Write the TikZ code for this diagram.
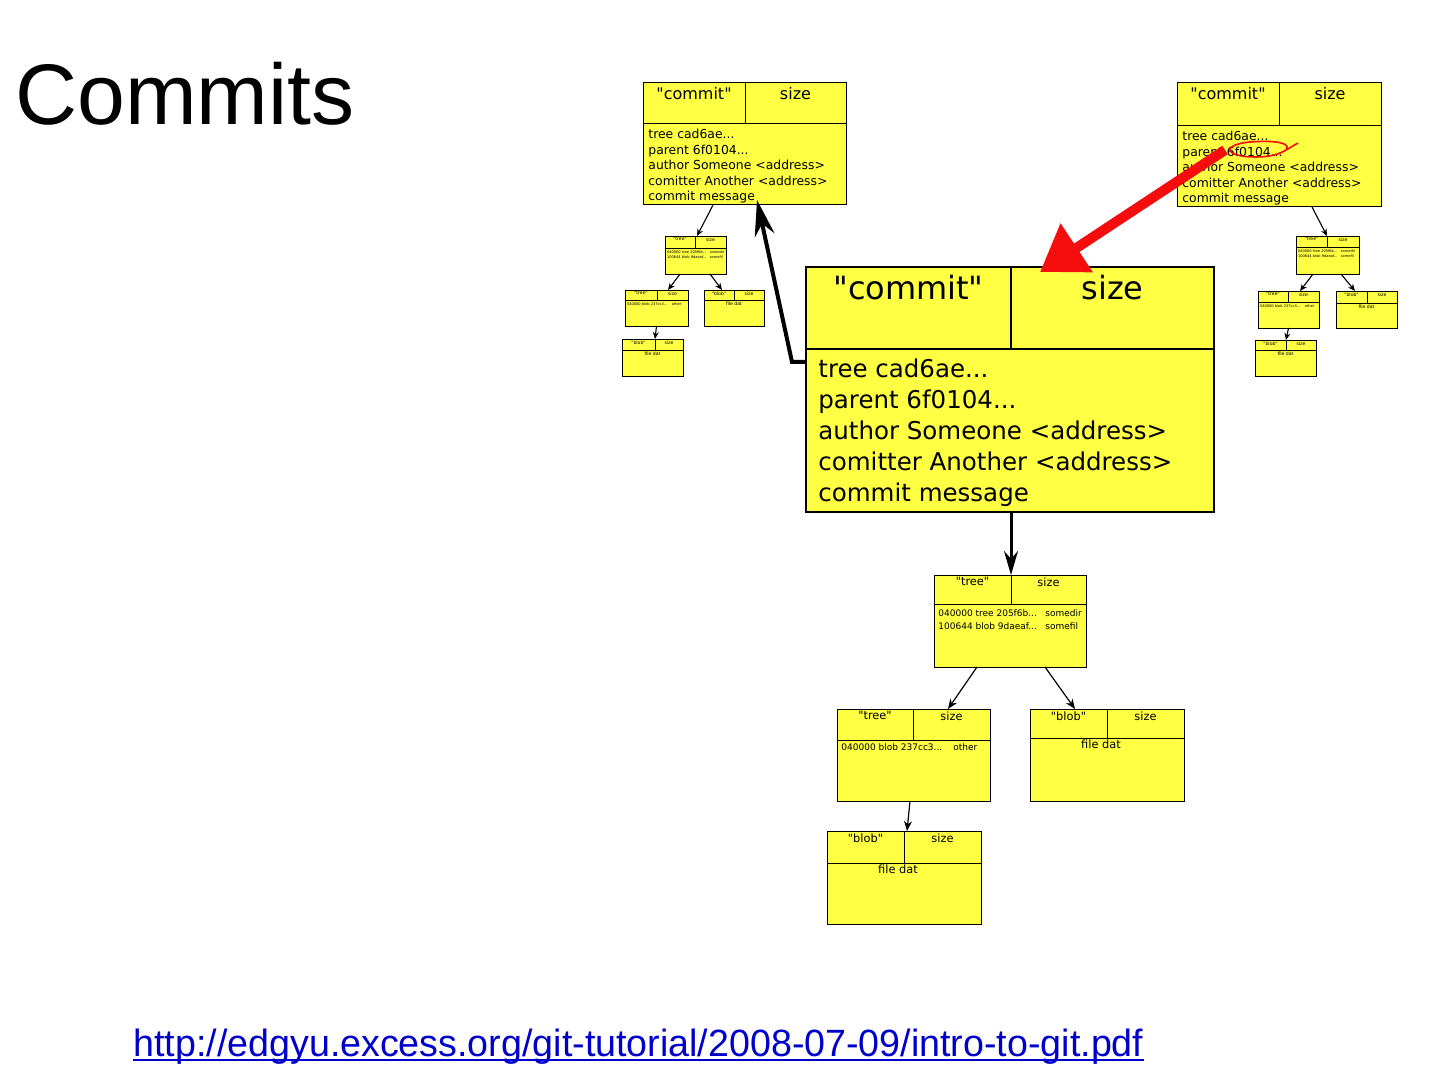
\documentclass[tikz,border=0pt]{standalone}
\usepackage{fontspec}
\usepackage{graphicx}
\setmainfont{Liberation Sans}
\newfontfamily\objfont{DejaVu Sans}[Ligatures=TeXOff]
\usetikzlibrary{arrows.meta, positioning}
\definecolor{GitYellow}{RGB}{255, 255, 68}
\definecolor{MarkRed}{RGB}{245, 12, 12}
\definecolor{LinkBlue}{RGB}{0, 0, 204}

\begin{document}
\begin{tikzpicture}[
    % one unit = one pixel of the slide
    x=0.5pt, y=-0.5pt,
    % --- OBJECT CELLS ---
    cell/.style={
        draw=black,
        fill=GitYellow,
        inner sep=0pt,
        outer sep=0pt,
        anchor=north west,
        line width=0.5pt
    },
    bigcell/.style={cell, line width=0.8pt},
    tinycell/.style={cell, line width=0.45pt},
    % --- TEXT INSIDE THE CELLS (label styles) ---
    bighead/.style={anchor=north, inner sep=4pt, font=\objfont\fontsize{16}{19}\selectfont},
    bigbody/.style={anchor=north west, inner xsep=6pt, inner ysep=4.5pt, align=left,
        font=\objfont\fontsize{12.25}{15.5}\selectfont},
    comhead/.style={anchor=north, inner sep=2pt, font=\objfont\fontsize{8}{9.5}\selectfont},
    combody/.style={anchor=north west, inner xsep=2.5pt, inner ysep=2.5pt, align=left,
        font=\objfont\fontsize{6.2}{7.75}\selectfont},
    treehead/.style={anchor=north, inner sep=1pt, font=\objfont\fontsize{5.7}{6.5}\selectfont},
    treebody/.style={anchor=north west, inner xsep=2pt, inner ysep=2.5pt, align=left,
        font=\objfont\fontsize{4.5}{6.5}\selectfont},
    tinyhead/.style={anchor=north, inner sep=0.6pt, font=\objfont\fontsize{2.3}{2.6}\selectfont},
    tinybody/.style={anchor=north west, inner xsep=0.8pt, inner ysep=1pt, align=left,
        font=\objfont\fontsize{1.8}{2.6}\selectfont},
    % --- ARROWS ---
    arrow/.style={line width=0.6pt, -{Stealth[length=5pt, width=4pt]}},
    tinyarrow/.style={line width=0.55pt, -{Stealth[length=3.5pt, width=3pt]}},
    downarrow/.style={line width=1.5pt, -{Stealth[length=12pt, width=7pt]}},
    parentarrow/.style={line width=2pt, -{Stealth[length=18pt, width=10pt]}},
    redarrow/.style={MarkRed, line width=5pt, -{Triangle[length=22pt, width=28pt]}},
    redpen/.style={MarkRed, line width=0.8pt}
]
\useasboundingbox [fill=white] (0,0) rectangle (1440,1080);

% --- TITLE AND SOURCE ---
\node (title) [anchor=base west, inner sep=0pt, font=\fontsize{43}{50}\selectfont] at (15,125) {Commits};
\node (link) [anchor=base west, inner sep=0pt, text=LinkBlue, font=\fontsize{19}{23}\selectfont] at (133,1056)
    {\scalebox{0.99}[1]{http://edgyu.excess.org/git-tutorial/2008-07-09/intro-to-git.pdf}};
\draw [LinkBlue, line width=1pt] ([yshift=-2pt]link.base west) -- ([yshift=-2pt]link.base east);

% --- 1. THE LARGE COMMIT ---
\node (mcType) [bigcell, minimum width=102.5pt, minimum height=41pt, label={[bighead]north:{"commit"}}] at (806,267) {};
\node (mcSize) [bigcell, minimum width=101.5pt, minimum height=41pt, label={[bighead]north:size}] at (mcType.north east) {};
\node (mcBody) [bigcell, minimum width=204pt, minimum height=81.5pt,
    label={[bigbody]north west:{tree cad6ae...\\parent 6f0104...\\author Someone <address>\\comitter Another <address>\\commit message}}] at (mcType.south west) {};

% Tree of the large commit
\node (mtType) [cell, minimum width=38.5pt, minimum height=14.5pt, label={[treehead]north:{"tree"}}] at (934,575) {};
\node (mtSize) [cell, minimum width=37.5pt, minimum height=14.5pt, label={[treehead]north:size}] at (mtType.north east) {};
\node (mtBody) [cell, minimum width=76pt, minimum height=31.5pt,
    label={[treebody]north west:{\makebox[53.5pt][l]{040000 tree 205f6b...}somedir\\\makebox[53.5pt][l]{100644 blob 9daeaf...}somefil}}] at (mtType.south west) {};

\node (stType) [cell, minimum width=38pt, minimum height=15.5pt, label={[treehead]north:{"tree"}}] at (837,709) {};
\node (stSize) [cell, minimum width=38.5pt, minimum height=15.5pt, label={[treehead]north:size}] at (stType.north east) {};
\node (stBody) [cell, minimum width=76.5pt, minimum height=30.5pt,
    label={[treebody, inner ysep=1.5pt]north west:{\makebox[56pt][l]{040000 blob 237cc3...}other}}] at (stType.south west) {};

\node (fbType) [cell, minimum width=38.5pt, minimum height=14.5pt, label={[treehead]north:{"blob"}}] at (1030,709) {};
\node (fbSize) [cell, minimum width=38.5pt, minimum height=14.5pt, label={[treehead]north:size}] at (fbType.north east) {};
\node (fbBody) [cell, minimum width=77pt, minimum height=31.5pt,
    label={[treehead, xshift=-3pt, inner sep=0.5pt]north:file dat}] at (fbType.south west) {};

\node (sbType) [cell, minimum width=38.5pt, minimum height=16pt, label={[treehead]north:{"blob"}}] at (827,831) {};
\node (sbSize) [cell, minimum width=38.5pt, minimum height=16pt, label={[treehead]north:size}] at (sbType.north east) {};
\node (sbBody) [cell, minimum width=77pt, minimum height=30.5pt,
    label={[treehead, xshift=-3pt, inner sep=0.5pt]north:file dat}] at (sbType.south west) {};

% --- 2. THE PARENT COMMIT (top left) ---
\node (lcType) [cell, minimum width=51pt, minimum height=20.5pt, label={[comhead]north:{"commit"}}] at (643,83) {};
\node (lcSize) [cell, minimum width=50.5pt, minimum height=20.5pt, label={[comhead]north:size}] at (lcType.north east) {};
\node (lcBody) [cell, minimum width=101.5pt, minimum height=40.5pt,
    label={[combody]north west:{tree cad6ae...\\parent 6f0104...\\author Someone <address>\\comitter Another <address>\\commit message}}] at (lcType.south west) {};

\node (lTreeAType) [tinycell, minimum width=15pt, minimum height=6pt, label={[tinyhead]north:{"tree"}}] at (665,236) {};
\node (lTreeASize) [tinycell, minimum width=15.5pt, minimum height=6pt, label={[tinyhead]north:size}] at (lTreeAType.north east) {};
\node (lTreeABody) [tinycell, minimum width=30.5pt, minimum height=13pt,
    label={[tinybody]north west:{\makebox[21.4pt][l]{040000 tree 205f6b...}somedir\\\makebox[21.4pt][l]{100644 blob 9daeaf...}somefil}}] at (lTreeAType.south west) {};
\node (lTreeBType) [tinycell, minimum width=16pt, minimum height=5pt, label={[tinyhead]north:{"tree"}}] at (625,290) {};
\node (lTreeBSize) [tinycell, minimum width=15.5pt, minimum height=5pt, label={[tinyhead]north:size}] at (lTreeBType.north east) {};
\node (lTreeBBody) [tinycell, minimum width=31.5pt, minimum height=13pt,
    label={[tinybody]north west:{\makebox[22.4pt][l]{040000 blob 237cc3...}other}}] at (lTreeBType.south west) {};
\node (lBlobAType) [tinycell, minimum width=15pt, minimum height=5pt, label={[tinyhead]north:{"blob"}}] at (704,290) {};
\node (lBlobASize) [tinycell, minimum width=15pt, minimum height=5pt, label={[tinyhead]north:size}] at (lBlobAType.north east) {};
\node (lBlobABody) [tinycell, minimum width=30pt, minimum height=13pt, label={[tinyhead]north:file dat}] at (lBlobAType.south west) {};
\node (lBlobBType) [tinycell, minimum width=16.5pt, minimum height=5.5pt, label={[tinyhead]north:{"blob"}}] at (622,339) {};
\node (lBlobBSize) [tinycell, minimum width=14pt, minimum height=5.5pt, label={[tinyhead]north:size}] at (lBlobBType.north east) {};
\node (lBlobBBody) [tinycell, minimum width=30.5pt, minimum height=13pt, label={[tinyhead]north:file dat}] at (lBlobBType.south west) {};

% --- 3. THE CHILD COMMIT (top right) ---
\node (rcType) [cell, minimum width=51pt, minimum height=21.5pt, label={[comhead]north:{"commit"}}] at (1177,83) {};
\node (rcSize) [cell, minimum width=51pt, minimum height=21.5pt, label={[comhead]north:size}] at (rcType.north east) {};
\node (rcBody) [cell, minimum width=102pt, minimum height=40.5pt,
    label={[combody]north west:{tree cad6ae...\\parent 6f0104...\\author Someone <address>\\comitter Another <address>\\commit message}}] at (rcType.south west) {};

\node (rTreeAType) [tinycell, minimum width=15.5pt, minimum height=5.5pt, label={[tinyhead]north:{"tree"}}] at (1296,236) {};
\node (rTreeASize) [tinycell, minimum width=16pt, minimum height=5.5pt, label={[tinyhead]north:size}] at (rTreeAType.north east) {};
\node (rTreeABody) [tinycell, minimum width=31.5pt, minimum height=13.5pt,
    label={[tinybody]north west:{\makebox[21.4pt][l]{040000 tree 205f6b...}somedir\\\makebox[21.4pt][l]{100644 blob 9daeaf...}somefil}}] at (rTreeAType.south west) {};
\node (rTreeBType) [tinycell, minimum width=15pt, minimum height=5.5pt, label={[tinyhead]north:{"tree"}}] at (1258,291) {};
\node (rTreeBSize) [tinycell, minimum width=15.5pt, minimum height=5.5pt, label={[tinyhead]north:size}] at (rTreeBType.north east) {};
\node (rTreeBBody) [tinycell, minimum width=30.5pt, minimum height=13pt,
    label={[tinybody]north west:{\makebox[22.4pt][l]{040000 blob 237cc3...}other}}] at (rTreeBType.south west) {};
\node (rBlobAType) [tinycell, minimum width=15.5pt, minimum height=6pt, label={[tinyhead]north:{"blob"}}] at (1336,291) {};
\node (rBlobASize) [tinycell, minimum width=15pt, minimum height=6pt, label={[tinyhead]north:size}] at (rBlobAType.north east) {};
\node (rBlobABody) [tinycell, minimum width=30.5pt, minimum height=12.5pt, label={[tinyhead]north:file dat}] at (rBlobAType.south west) {};
\node (rBlobBType) [tinycell, minimum width=15.5pt, minimum height=5pt, label={[tinyhead]north:{"blob"}}] at (1255,340) {};
\node (rBlobBSize) [tinycell, minimum width=15pt, minimum height=5pt, label={[tinyhead]north:size}] at (rBlobBType.north east) {};
\node (rBlobBBody) [tinycell, minimum width=30.5pt, minimum height=13pt, label={[tinyhead]north:file dat}] at (rBlobBType.south west) {};

% --- CONNECTIONS ---

% Large commit down to its objects
\draw [downarrow] ([xshift=0.5pt]mcBody.south) -- (mtType.north east);
\draw [arrow] ([xshift=21.5pt]mtBody.south west) -- ([xshift=17.5pt]stType.north east);
\draw [arrow] ([xshift=55.5pt]mtBody.south west) -- ([xshift=-16pt]fbType.north east);
\draw [arrow] ([xshift=36.5pt]stBody.south west) -- ([xshift=1.5pt]sbType.north east);

% Parent commit objects
\draw [tinyarrow] ([xshift=35pt]lcBody.south west) -- ([xshift=1pt]lTreeAType.north east);
\draw [tinyarrow] ([xshift=7.5pt]lTreeABody.south west) -- ([xshift=5.5pt]lTreeBType.north east);
\draw [tinyarrow] ([xshift=22.5pt]lTreeABody.south west) -- ([xshift=-6pt]lBlobAType.north east);
\draw [tinyarrow] (lTreeBBody.south) -- (lBlobBType.north east);

% Child commit objects
\draw [tinyarrow] ([xshift=67.5pt]rcBody.south west) -- (rTreeAType.north east);
\draw [tinyarrow] ([xshift=8.5pt]rTreeABody.south west) -- ([xshift=6pt]rTreeBType.north east);
\draw [tinyarrow] ([xshift=22.5pt]rTreeABody.south west) -- ([xshift=-6pt]rBlobAType.north east);
\draw [tinyarrow] (rTreeBBody.south) -- (rBlobBType.north east);

% Large commit points back to its parent
\draw [parentarrow] ([yshift=-6.5pt]mcBody.north west) -- ++(-14,0) -- ([xshift=57pt, yshift=2.5pt]lcBody.south west);

% Red mark: the parent hash of the child is the large commit
\draw [redpen] (1298,143) .. controls (1285,150) and (1280,157) .. (1255,157)
    .. controls (1225,157) and (1220,145) .. (1250,142) .. controls (1275,140) and (1292,143) .. (1286,150);
\draw [redarrow] ([xshift=24pt, yshift=-12pt]rcBody.north west) -- ([xshift=14.5pt, yshift=-2.5pt]mcSize.north west);

\end{tikzpicture}
\end{document}
